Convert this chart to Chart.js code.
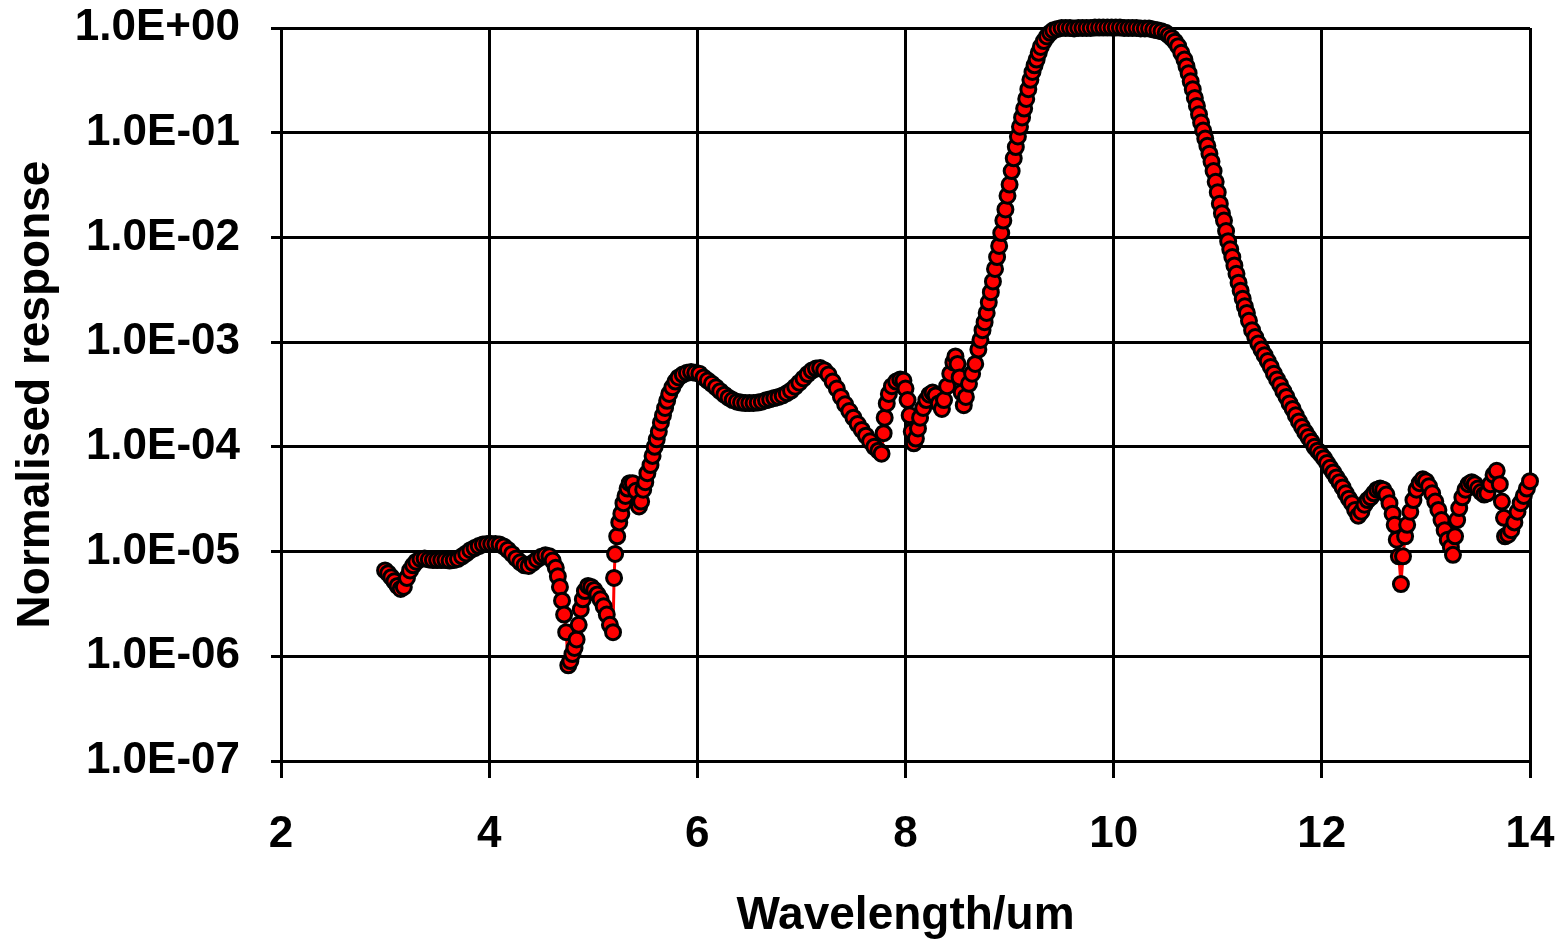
<!DOCTYPE html>
<html>
<head>
<meta charset="utf-8">
<script src="https://cdn.jsdelivr.net/npm/chart.js@4/dist/chart.umd.min.js"></script>
<style>
    html, body { margin: 0; padding: 0; background: #fff; }
    #wrap { width: 1564px; height: 944px; }
</style>
</head>
<body>
<div id="wrap"><canvas id="responseChart" width="1564" height="944"></canvas></div>
<script>
// ==========================================
// 1. Measured filter response
// ==========================================
const wavelength = [
    3.00, 3.03, 3.06, 3.09, 3.12, 3.15, 3.18, 3.21, 3.24, 3.27, 3.30, 3.34, 3.38, 3.42, 3.46, 3.50,
    3.54, 3.58, 3.62, 3.66, 3.70, 3.74, 3.78, 3.82, 3.86, 3.90, 3.94, 3.98, 4.02, 4.06, 4.10, 4.14,
    4.18, 4.22, 4.26, 4.30, 4.34, 4.38, 4.42, 4.46, 4.50, 4.54, 4.58, 4.61, 4.64, 4.66, 4.68, 4.70,
    4.72, 4.74, 4.76, 4.78, 4.80, 4.82, 4.84, 4.86, 4.88, 4.90, 4.92, 4.95, 4.98, 5.01, 5.04, 5.07,
    5.10, 5.13, 5.16, 5.19, 5.20, 5.21, 5.23, 5.25, 5.27, 5.29, 5.31, 5.33, 5.35, 5.38, 5.41, 5.44,
    5.46, 5.48, 5.50, 5.52, 5.55, 5.57, 5.59, 5.61, 5.63, 5.65, 5.67, 5.69, 5.71, 5.73, 5.76, 5.79,
    5.82, 5.86, 5.90, 5.94, 5.98, 6.02, 6.06, 6.10, 6.14, 6.18, 6.22, 6.26, 6.30, 6.34, 6.38, 6.42,
    6.46, 6.50, 6.54, 6.58, 6.62, 6.66, 6.70, 6.74, 6.78, 6.82, 6.86, 6.90, 6.94, 6.98, 7.02, 7.06,
    7.10, 7.14, 7.18, 7.22, 7.26, 7.30, 7.34, 7.38, 7.42, 7.46, 7.50, 7.54, 7.58, 7.62, 7.66, 7.70,
    7.74, 7.77, 7.79, 7.80, 7.82, 7.84, 7.87, 7.91, 7.95, 7.98, 8.00, 8.02, 8.04, 8.06, 8.08, 8.10,
    8.12, 8.14, 8.17, 8.20, 8.23, 8.26, 8.29, 8.32, 8.35, 8.37, 8.40, 8.43, 8.46, 8.48, 8.50, 8.52,
    8.54, 8.56, 8.58, 8.61, 8.64, 8.67, 8.70, 8.72, 8.74, 8.76, 8.78, 8.80, 8.82, 8.84, 8.86, 8.88,
    8.90, 8.92, 8.94, 8.96, 8.98, 9.00, 9.02, 9.04, 9.06, 9.08, 9.10, 9.12, 9.14, 9.16, 9.18, 9.20,
    9.22, 9.24, 9.26, 9.28, 9.30, 9.33, 9.36, 9.39, 9.42, 9.46, 9.50, 9.54, 9.58, 9.62, 9.66, 9.70,
    9.74, 9.78, 9.82, 9.86, 9.90, 9.94, 9.98, 10.02, 10.06, 10.10, 10.14, 10.18, 10.22, 10.26, 10.30, 10.34,
    10.38, 10.42, 10.46, 10.50, 10.53, 10.56, 10.59, 10.62, 10.65, 10.68, 10.70, 10.72, 10.74, 10.76, 10.78, 10.80,
    10.82, 10.84, 10.86, 10.88, 10.90, 10.92, 10.94, 10.96, 10.98, 11.00, 11.02, 11.04, 11.06, 11.08, 11.10, 11.12,
    11.14, 11.16, 11.18, 11.20, 11.22, 11.24, 11.26, 11.28, 11.30, 11.33, 11.36, 11.39, 11.42, 11.45, 11.48, 11.51,
    11.54, 11.57, 11.60, 11.63, 11.66, 11.69, 11.72, 11.75, 11.78, 11.81, 11.84, 11.87, 11.90, 11.93, 11.96, 11.99,
    12.02, 12.05, 12.08, 12.11, 12.14, 12.17, 12.20, 12.23, 12.26, 12.29, 12.32, 12.35, 12.38, 12.41, 12.44, 12.47,
    12.50, 12.53, 12.56, 12.59, 12.62, 12.65, 12.68, 12.70, 12.72, 12.74, 12.76, 12.78, 12.80, 12.82, 12.85, 12.88,
    12.91, 12.94, 12.97, 13.00, 13.03, 13.06, 13.09, 13.12, 13.15, 13.18, 13.21, 13.24, 13.26, 13.28, 13.30, 13.32,
    13.35, 13.38, 13.41, 13.44, 13.47, 13.50, 13.53, 13.56, 13.59, 13.62, 13.65, 13.68, 13.71, 13.73, 13.75, 13.76,
    13.79, 13.82, 13.85, 13.88, 13.91, 13.94, 13.97, 14.00
];

const response = [
    6.6e-6, 6.2e-6, 5.7e-6, 5.2e-6, 4.7e-6, 4.4e-6, 4.6e-6, 5.6e-6, 6.6e-6, 7.4e-6, 8.0e-6, 8.5e-6, 8.6e-6, 8.4e-6, 8.3e-6, 8.3e-6,
    8.3e-6, 8.3e-6, 8.2e-6, 8.3e-6, 8.5e-6, 9.0e-6, 9.6e-6, 1.03e-5, 1.08e-5, 1.13e-5, 1.17e-5, 1.18e-5, 1.18e-5, 1.18e-5, 1.17e-5, 1.12e-5,
    1.04e-5, 9.5e-6, 8.6e-6, 7.9e-6, 7.4e-6, 7.3e-6, 7.8e-6, 8.4e-6, 8.9e-6, 9.2e-6, 9.0e-6, 8.2e-6, 7.0e-6, 5.8e-6, 4.6e-6, 3.4e-6,
    2.5e-6, 1.7e-6, 8.2e-7, 9.0e-7, 1.05e-6, 1.2e-6, 1.45e-6, 2.0e-6, 2.8e-6, 3.5e-6, 4.2e-6, 4.7e-6, 4.6e-6, 4.3e-6, 3.9e-6, 3.5e-6,
    3.0e-6, 2.5e-6, 2.0e-6, 1.7e-6, 5.6e-6, 9.5e-6, 1.4e-5, 1.9e-5, 2.3e-5, 2.9e-5, 3.4e-5, 4.0e-5, 4.5e-5, 4.5e-5, 3.8e-5, 2.7e-5,
    3.0e-5, 3.9e-5, 4.6e-5, 5.6e-5, 6.7e-5, 8.2e-5, 1.0e-4, 1.18e-4, 1.4e-4, 1.7e-4, 2.0e-4, 2.35e-4, 2.75e-4, 3.2e-4, 3.7e-4, 4.2e-4,
    4.6e-4, 4.9e-4, 5.1e-4, 5.2e-4, 5.1e-4, 5.0e-4, 4.6e-4, 4.3e-4, 4.0e-4, 3.7e-4, 3.4e-4, 3.15e-4, 2.95e-4, 2.8e-4, 2.7e-4, 2.65e-4,
    2.62e-4, 2.62e-4, 2.63e-4, 2.65e-4, 2.7e-4, 2.78e-4, 2.85e-4, 2.92e-4, 3.0e-4, 3.1e-4, 3.25e-4, 3.45e-4, 3.75e-4, 4.1e-4, 4.5e-4, 4.95e-4,
    5.35e-4, 5.6e-4, 5.65e-4, 5.4e-4, 4.9e-4, 4.2e-4, 3.6e-4, 3.0e-4, 2.55e-4, 2.2e-4, 1.9e-4, 1.65e-4, 1.45e-4, 1.28e-4, 1.13e-4, 1.0e-4,
    9.2e-5, 8.6e-5, 1.35e-4, 1.9e-4, 2.6e-4, 3.2e-4, 3.8e-4, 4.2e-4, 4.4e-4, 4.3e-4, 3.6e-4, 2.8e-4, 2.0e-4, 1.4e-4, 1.08e-4, 1.2e-4,
    1.5e-4, 1.9e-4, 2.35e-4, 2.8e-4, 3.15e-4, 3.3e-4, 3.1e-4, 2.6e-4, 2.3e-4, 2.8e-4, 3.8e-4, 5.0e-4, 6.4e-4, 7.3e-4, 6.2e-4, 4.6e-4,
    3.3e-4, 2.5e-4, 3.0e-4, 4.0e-4, 5.0e-4, 6.2e-4, 8.5e-4, 1.05e-3, 1.3e-3, 1.55e-3, 1.9e-3, 2.4e-3, 3.0e-3, 3.8e-3, 5.0e-3, 6.5e-3,
    8.3e-3, 1.1e-2, 1.45e-2, 1.85e-2, 2.5e-2, 3.2e-2, 4.3e-2, 5.7e-2, 7.3e-2, 9.2e-2, 0.114, 0.14, 0.17, 0.21, 0.26, 0.32,
    0.38, 0.44, 0.50, 0.58, 0.66, 0.75, 0.83, 0.90, 0.95, 0.98, 1.0, 1.0, 1.0, 0.99, 1.0, 1.0,
    1.0, 1.0, 1.01, 1.01, 1.01, 1.01, 1.01, 1.01, 1.01, 1.0, 1.0, 1.0, 1.0, 0.99, 0.99, 0.99,
    0.97, 0.95, 0.93, 0.90, 0.85, 0.80, 0.74, 0.67, 0.58, 0.50, 0.43, 0.37, 0.31, 0.26, 0.215, 0.18,
    0.15, 0.125, 0.105, 0.088, 0.075, 0.063, 0.053, 0.043, 0.034, 0.027, 0.021, 0.017, 0.0145, 0.0115, 0.0092, 0.0077,
    0.0065, 0.0054, 0.0045, 0.0037, 0.0031, 0.0026, 0.0022, 0.0019, 0.0016, 0.0013, 0.00112, 0.00097, 0.00085, 0.00075, 0.00066, 0.00058,
    5.0e-4, 4.4e-4, 3.9e-4, 3.4e-4, 3.0e-4, 2.6e-4, 2.3e-4, 2.0e-4, 1.75e-4, 1.55e-4, 1.38e-4, 1.24e-4, 1.12e-4, 1.0e-4, 9.2e-5, 8.5e-5,
    7.8e-5, 7.0e-5, 6.3e-5, 5.7e-5, 5.1e-5, 4.6e-5, 4.1e-5, 3.6e-5, 3.2e-5, 2.9e-5, 2.5e-5, 2.2e-5, 2.4e-5, 2.8e-5, 3.1e-5, 3.3e-5,
    3.6e-5, 3.9e-5, 4.0e-5, 3.9e-5, 3.5e-5, 2.9e-5, 2.3e-5, 1.8e-5, 1.3e-5, 9.0e-6, 4.9e-6, 9.0e-6, 1.4e-5, 1.8e-5, 2.4e-5, 3.1e-5,
    3.9e-5, 4.5e-5, 4.9e-5, 4.7e-5, 4.2e-5, 3.6e-5, 3.0e-5, 2.5e-5, 2.0e-5, 1.6e-5, 1.3e-5, 1.1e-5, 9.3e-6, 1.4e-5, 2.0e-5, 2.6e-5,
    3.3e-5, 3.9e-5, 4.4e-5, 4.6e-5, 4.4e-5, 4.0e-5, 3.7e-5, 3.5e-5, 3.6e-5, 4.4e-5, 5.4e-5, 5.9e-5, 4.4e-5, 3.0e-5, 2.1e-5, 1.4e-5,
    1.45e-5, 1.6e-5, 1.9e-5, 2.4e-5, 2.9e-5, 3.4e-5, 4.0e-5, 4.7e-5
];

// axis ticks
const xTicks = [2, 4, 6, 8, 10, 12, 14];
const yTicks = [1e-7, 1e-6, 1e-5, 1e-4, 1e-3, 1e-2, 1e-1, 1];
const yTickLabels = ['1.0E-07', '1.0E-06', '1.0E-05', '1.0E-04', '1.0E-03', '1.0E-02', '1.0E-01', '1.0E+00'];

// ==========================================
// 2. Chart setup
// ==========================================
const points = wavelength.map((w, i) => ({ x: w, y: response[i] }));
const tickFont = { family: "'Liberation Sans', Arial, sans-serif", size: 44, weight: 'bold' };
const titleFont = { family: "'Liberation Sans', Arial, sans-serif", size: 46, weight: 'bold' };

const ctx = document.getElementById('responseChart');

new Chart(ctx, {
    type: 'scatter',
    data: {
        datasets: [{
            data: points,
            showLine: true,
            borderColor: '#ff0000',
            borderWidth: 3,
            pointRadius: 7.5,
            pointBorderWidth: 3,
            pointBackgroundColor: '#ff0000',
            pointBorderColor: '#000000',
            clip: false
        }]
    },
    options: {
        responsive: false,
        animation: false,
        devicePixelRatio: 1,
        layout: { padding: { left: 0, right: 34, top: 28, bottom: 0 } },
        plugins: {
            legend: { display: false },
            tooltip: { enabled: false }
        },
        scales: {
            x: {
                type: 'linear',
                min: 2,
                max: 14,
                afterBuildTicks: (scale) => { scale.ticks = xTicks.map(v => ({ value: v })); },
                // fixed axis band, and no extra room reserved for the end labels
                afterFit: (scale) => {
                    scale.height = 183;
                    scale.paddingLeft = 0;
                    scale.paddingRight = 0;
                },
                ticks: { color: '#000', font: tickFont, padding: 30, maxRotation: 0 },
                grid: { color: '#000', lineWidth: 3, tickLength: 17 },
                border: { color: '#000', width: 3 },
                title: {
                    display: true,
                    text: 'Wavelength/um',
                    color: '#000',
                    font: titleFont,
                    padding: { top: 0, bottom: 0 }
                }
            },
            y: {
                type: 'logarithmic',
                min: 1e-7,
                max: 1,
                afterBuildTicks: (scale) => { scale.ticks = yTicks.map(v => ({ value: v })); },
                afterFit: (scale) => {
                    scale.width = 281;
                    scale.paddingTop = 0;
                    scale.paddingBottom = 0;
                },
                ticks: {
                    color: '#000',
                    font: tickFont,
                    padding: 31,
                    callback: (v, i) => yTickLabels[i]
                },
                grid: { color: '#000', lineWidth: 3, tickLength: 10 },
                border: { color: '#000', width: 3 },
                title: {
                    display: true,
                    text: 'Normalised response',
                    color: '#000',
                    font: titleFont,
                    padding: { top: 9, bottom: 0 }
                }
            }
        }
    }
});
</script>
</body>
</html>
